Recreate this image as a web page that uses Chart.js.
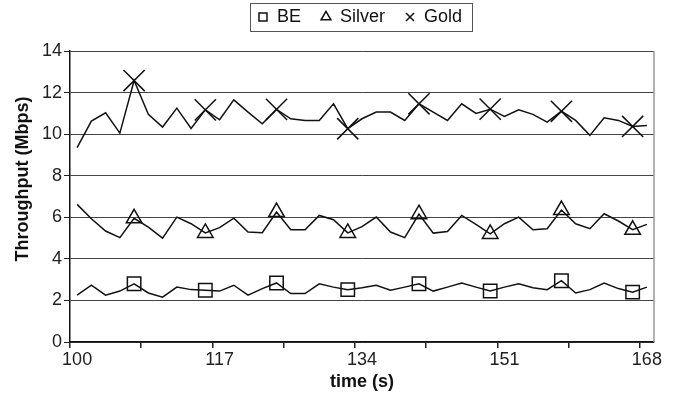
<!DOCTYPE html>
<html>
<head>
<meta charset="utf-8">
<script src="https://cdn.jsdelivr.net/npm/chart.js@4"></script>
<style>
  html, body { margin: 0; padding: 0; background: #fff; }
  #wrap { width: 675px; height: 393px; position: relative; }
</style>
</head>
<body>
<div id="wrap"><canvas id="chart"></canvas></div>
<script>
// time axis (s), one category per sample
const times = [100, 101.7, 103.4, 105.1, 106.8, 108.5, 110.2, 111.9, 113.6, 115.3,
  117, 118.7, 120.4, 122.1, 123.8, 125.5, 127.2, 128.9, 130.6, 132.3,
  134, 135.7, 137.4, 139.1, 140.8, 142.5, 144.2, 145.9, 147.6, 149.3,
  151, 152.7, 154.4, 156.1, 157.8, 159.5, 161.2, 162.9, 164.6, 166.3, 168];

// throughput (Mbps)
const be = [2.25, 2.73, 2.25, 2.45, 2.8, 2.36, 2.16, 2.64, 2.52, 2.49,
  2.45, 2.73, 2.25, 2.57, 2.84, 2.33, 2.33, 2.8, 2.64, 2.52,
  2.61, 2.73, 2.49, 2.64, 2.8, 2.45, 2.64, 2.84, 2.64, 2.45,
  2.64, 2.8, 2.61, 2.52, 2.95, 2.36, 2.52, 2.84, 2.57, 2.4, 2.64];
const silver = [6.62, 5.93, 5.34, 5.02, 5.95, 5.53, 5.0, 6.01, 5.69, 5.25,
  5.5, 5.96, 5.29, 5.26, 6.25, 5.4, 5.4, 6.09, 5.88, 5.25,
  5.55, 6.01, 5.29, 5.02, 6.15, 5.24, 5.32, 6.09, 5.66, 5.2,
  5.69, 6.01, 5.4, 5.45, 6.35, 5.69, 5.45, 6.17, 5.82, 5.4, 5.66];
const gold = [9.35, 10.63, 11.03, 10.05, 12.58, 10.95, 10.34, 11.25, 10.27, 11.17,
  10.69, 11.65, 11.06, 10.5, 11.19, 10.74, 10.66, 10.66, 11.46, 10.26,
  10.74, 11.06, 11.06, 10.66, 11.46, 11.06, 10.66, 11.46, 11.0, 11.2,
  10.85, 11.17, 10.95, 10.58, 11.1, 10.66, 9.94, 10.79, 10.66, 10.37, 10.42];

const FONT = "'Liberation Sans', Arial, sans-serif";

// marker on every 5th sample
function markerSize(r) {
  return ctx => (ctx.dataIndex % 5 === 4 ? r : 0);
}

function series(label, data, style, r) {
  return {
    label, data,
    borderColor: "#111", borderWidth: 1.5, tension: 0,
    pointStyle: style,
    pointRadius: markerSize(r), pointHoverRadius: markerSize(r),
    pointBorderColor: "#111", pointBackgroundColor: "rgba(0,0,0,0)",
    pointBorderWidth: 1.5
  };
}

// legend frame + right border of plot
const frame = {
  id: "frame",
  beforeInit(chart) {
    const fit = chart.legend.fit;
    chart.legend.fit = function () {
      fit.call(this);
      this.height += 15;
    };
  },
  afterLayout(chart) {
    // legend sits over the plot centre, not the canvas centre
    chart.legend.left += 33;
    chart.legend.right += 33;
  },
  afterDraw(chart) {
    const { ctx, chartArea: a, legend } = chart;
    ctx.save();
    ctx.strokeStyle = "#999";
    ctx.lineWidth = 1.5;
    ctx.beginPath();
    ctx.moveTo(a.right, a.top);
    ctx.lineTo(a.right, a.bottom);
    ctx.stroke();
    const boxes = legend.legendHitBoxes;
    const l = Math.min(...boxes.map(b => b.left)) - 8;
    const r = Math.max(...boxes.map(b => b.left + b.width)) + 10;
    ctx.strokeStyle = "#555";
    ctx.lineWidth = 1;
    ctx.strokeRect(Math.round(l) + 0.5, 3.5, Math.round(r - l), 28);
    ctx.restore();
  }
};

new Chart(document.getElementById("chart"), {
  type: "line",
  data: {
    labels: times,
    datasets: [
      series("BE", be, "rect", 9.5),
      series("Silver", silver, "triangle", 9),
      series("Gold", gold, "crossRot", 15)
    ]
  },
  options: {
    responsive: true,
    maintainAspectRatio: false,
    animation: false,
    layout: { padding: { left: 0, right: 21, top: -12, bottom: 0 } },
    plugins: {
      tooltip: { enabled: false },
      legend: {
        position: "top",
        labels: {
          usePointStyle: true, boxWidth: 10, boxHeight: 8, padding: 20,
          color: "#111", font: { family: FONT, size: 18 }
        }
      }
    },
    scales: {
      x: {
        offset: true,
        afterFit(s) { s.height = 51; },
        grid: {
          offset: true, drawOnChartArea: false, tickLength: 6,
          color: ctx => (ctx.index % 5 === 0 ? "#222" : "rgba(0,0,0,0)"), lineWidth: 1.5
        },
        border: { color: "#111", width: 1.5 },
        ticks: {
          autoSkip: false, maxRotation: 0, padding: 1, color: "#222",
          font: { family: FONT, size: 18 },
          callback(v, i) { return i % 10 === 0 ? String(times[i]) : ""; }
        },
        title: {
          display: true, text: "time (s)", color: "#111", padding: { top: 0, bottom: 0 },
          font: { family: FONT, size: 18, weight: "bold" }
        }
      },
      y: {
        min: 0, max: 14,
        afterFit(s) { s.width = 70; },
        grid: { color: "#444", lineWidth: 1, tickLength: 6, tickColor: "#222" },
        border: { color: "#111", width: 1.5 },
        ticks: {
          stepSize: 2, padding: 2, color: "#222",
          font: { family: FONT, size: 18 }
        },
        title: {
          display: true, text: "       Throughput (Mbps)", color: "#111", padding: { top: 12, bottom: 0 },
          font: { family: FONT, size: 18, weight: "bold" }
        }
      }
    }
  },
  plugins: [frame]
});
</script>
</body>
</html>
